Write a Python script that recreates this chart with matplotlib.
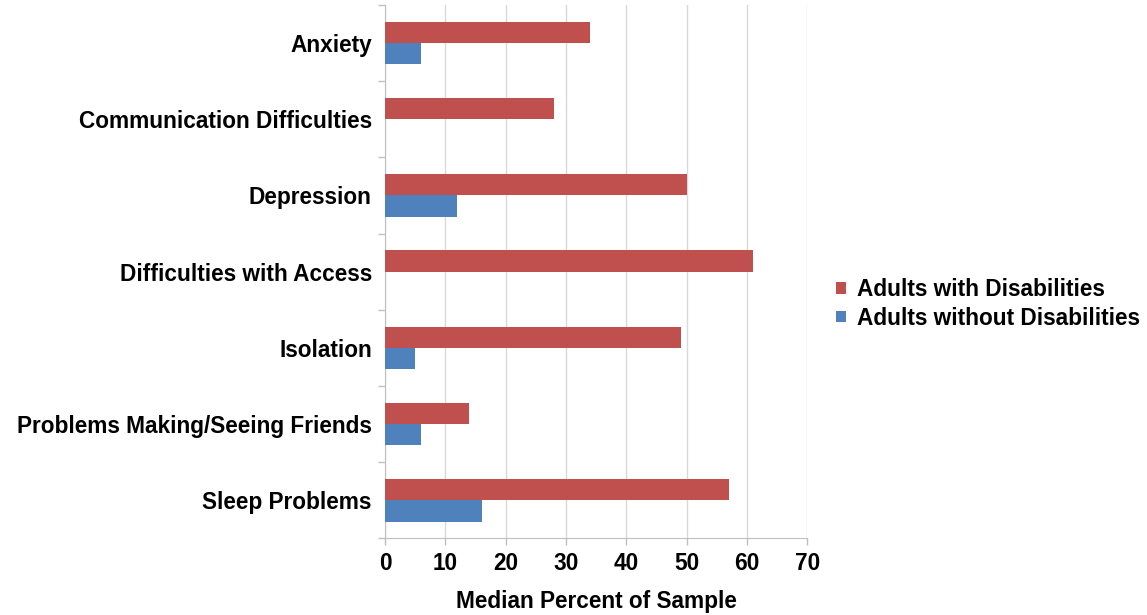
import matplotlib
matplotlib.use("Agg")
import matplotlib.pyplot as plt
import numpy as np
from matplotlib.patches import Patch

categories = ["Anxiety", "Communication Difficulties", "Depression",
              "Difficulties with Access", "Isolation",
              "Problems Making/Seeing Friends", "Sleep Problems"]
with_dis = [34, 28, 50, 61, 49, 14, 57]
without_dis = [6, 0, 12, 0, 5, 6, 16]
series_names = ["Adults with Disabilities", "Adults without Disabilities"]
xticks = [0, 10, 20, 30, 40, 50, 60, 70]

plt.rcParams['font.family'] = ['Liberation Sans', 'DejaVu Sans']
red = "#C0504D"
blue = "#4F81BD"
fs = 16.3

fig = plt.figure(figsize=(11.47, 6.15), dpi=100)
ax = fig.add_axes([0.3357, 0.1247, 0.3681, 0.8672])

y = np.arange(len(categories))
h = 0.28
ax.barh(y - h/2, with_dis, height=h, color=red, zorder=3)
ax.barh(y + h/2, without_dis, height=h, color=blue, zorder=3)

ax.set_ylim(len(categories) - 0.5, -0.5)
ax.set_xlim(0, 70)
ax.set_xticks(xticks)
ax.set_xticklabels([str(t) for t in xticks], fontsize=fs, fontweight='bold')
ax.set_yticks(y)
ax.set_yticklabels(categories, fontsize=fs, fontweight='bold')
ax.tick_params(axis='y', length=0, pad=9.5)
ax.set_yticks(np.arange(-0.5, len(categories), 1), minor=True)
ax.tick_params(axis='y', which='minor', length=5, color='#BFBFBF', width=1)
ax.tick_params(axis='x', length=5, color='#BFBFBF', width=1, pad=5)

ax.grid(axis='x', color='#D9D9D9', linewidth=1, zorder=0)
for s in ['top', 'right']:
    ax.spines[s].set_visible(False)
ax.spines['left'].set_color('#BFBFBF')
ax.spines['bottom'].set_color('#BFBFBF')

ax.set_xlabel("Median Percent of Sample", fontsize=fs, fontweight='bold', labelpad=11)

handles = [Patch(facecolor=red), Patch(facecolor=blue)]
fig.legend(handles, series_names, loc='center left', bbox_to_anchor=(0.7289, 0.506),
           frameon=False, prop={'size': fs, 'weight': 'bold'}, borderpad=0, borderaxespad=0,
           handlelength=0.44, handleheight=0.4, handletextpad=0.49, labelspacing=0.25)

fig.savefig("out.png", dpi=100)
